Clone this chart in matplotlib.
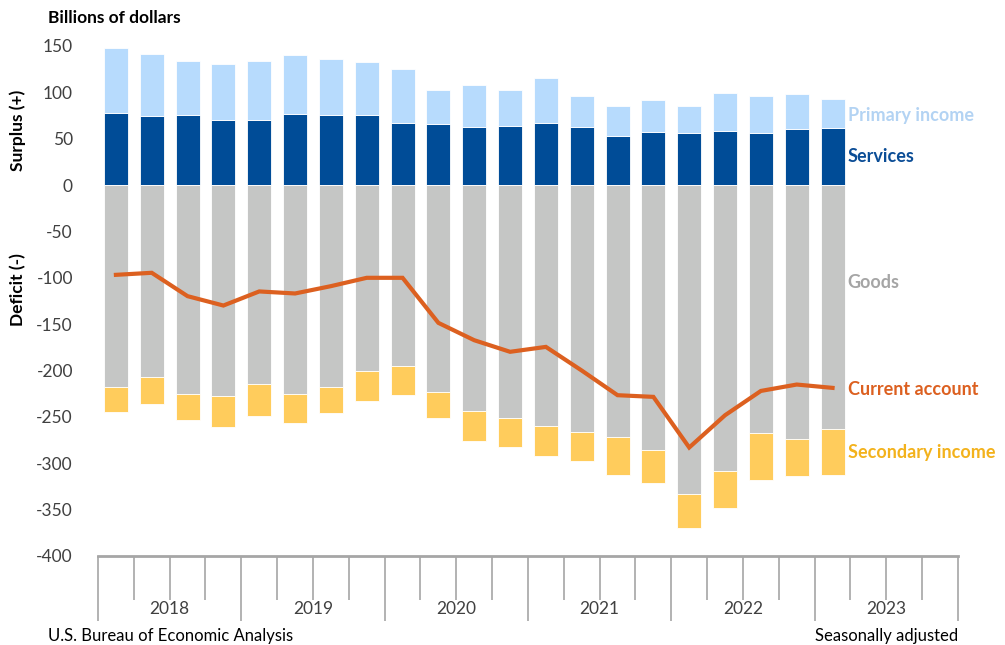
import numpy as np
import matplotlib.pyplot as plt
from matplotlib.transforms import blended_transform_factory

plt.rcParams['font.family'] = ['Lato', 'DejaVu Sans']
plt.rcParams['axes.unicode_minus'] = False

# quarterly values, 2018Q1 - 2023Q1, billions of dollars
years = ["2018", "2019", "2020", "2021", "2022", "2023"]
services = [78, 74.5, 75.5, 70.5, 70, 76.5, 75.5, 75.5, 66.5, 65.5, 62.6,
            63.7, 66.5, 62.6, 53, 56.8, 55.8, 58, 55.8, 60, 62]
primary_income = [70, 67, 58, 60, 63.5, 64, 60.5, 57, 59, 37, 45.7,
                  38.8, 49.3, 33.8, 32, 35, 29, 41.7, 40, 38.5, 31]
goods = [-218, -207, -225, -228, -214.5, -225, -217.5, -201, -195, -223, -243.7,
         -251, -259.7, -265.8, -272, -285.2, -332.7, -308.6, -267, -273.7, -263.3]
secondary_income = [-27, -29, -28.4, -32.8, -35, -31.6, -28.8, -31.7, -31, -28, -32.2,
                    -32, -32, -31.7, -40.3, -35.6, -36.7, -39.6, -51, -40.3, -49]
current_account = [-96.8, -94.6, -119.8, -129.9, -114.7, -116.9, -109, -100, -100,
                   -148.6, -167.3, -179.8, -174.5, -200, -226.6, -228.4, -283,
                   -248.2, -222, -215.1, -218.7]

c_primary = "#b7dbfd"
c_services = "#004c97"
c_goods = "#c5c6c5"
c_secondary = "#ffcc5c"
c_ca = "#dc6020"
c_axis = "#a6a6a6"
c_text = "#404040"

x = np.arange(len(services))
w = 0.67

fig = plt.figure(figsize=(10.05, 6.45), dpi=100)
ax = fig.add_axes([0.0975, 0.138, 0.8557, 0.7907])

edge = dict(edgecolor="white", linewidth=0.6)
ax.bar(x, services, w, color=c_services, **edge)
ax.bar(x, primary_income, w, bottom=services, color=c_primary, **edge)
ax.bar(x, goods, w, color=c_goods, **edge)
ax.bar(x, secondary_income, w, bottom=goods, color=c_secondary, **edge)
ax.plot(x, current_account, color=c_ca, lw=3, solid_joinstyle="miter", zorder=3)

ax.set_xlim(-0.5, 23.5)
ax.set_ylim(-400, 150)
ax.set_yticks(np.arange(-400, 151, 50))
ax.tick_params(axis="y", length=0, labelsize=12.5, labelcolor=c_text, pad=18)
for s in ["top", "right", "left"]:
    ax.spines[s].set_visible(False)
ax.spines["bottom"].set_color(c_axis)
ax.spines["bottom"].set_linewidth(2)

# quarter and year tick marks
ax.set_xticks(np.arange(-0.5, 24, 4))
ax.set_xticks(np.arange(-0.5, 24, 1), minor=True)
ax.tick_params(axis="x", which="major", length=47, width=1.2, color=c_axis, labelbottom=False)
ax.tick_params(axis="x", which="minor", length=32, width=1.2, color=c_axis)

trans = blended_transform_factory(ax.transData, ax.transAxes)
for i, yr in enumerate(years):
    ax.annotate(yr, (i * 4 + 1.5, 0), xycoords=trans, xytext=(0, -38),
                textcoords="offset points", ha="center", va="center",
                fontsize=12.5, color=c_text)

# series labels on the right
lx = 20.42
lab = dict(fontsize=13, fontweight="bold", ha="left", va="center")
ax.text(lx, 75.5, "Primary income", color="#b3d3f3", **lab)
ax.text(lx, 31, "Services", color="#0b4d96", **lab)
ax.text(lx, -104.7, "Goods", color="#a5a5a5", **lab)
ax.text(lx, -220, "Current account", color=c_ca, **lab)
ax.text(lx, -288, "Secondary income", color="#f3b21c", **lab)

fig.text(48 / 1005, 1 - 18 / 645, "Billions of dollars", fontsize=12.5,
         fontweight="bold", color="black", ha="left", va="center")
fig.text(18 / 1005, 1 - 130 / 645, "Surplus (+)", rotation=90, fontsize=12.5,
         fontweight="bold", ha="center", va="center")
fig.text(18 / 1005, 1 - 290 / 645, "Deficit (-)", rotation=90, fontsize=12.5,
         fontweight="bold", ha="center", va="center")
fig.text(48 / 1005, 1 - 636 / 645, "U.S. Bureau of Economic Analysis",
         fontsize=12, color="black", ha="left", va="center")
fig.text(958 / 1005, 1 - 636 / 645, "Seasonally adjusted",
         fontsize=12, color="black", ha="right", va="center")

fig.savefig("out.png", dpi=100)
